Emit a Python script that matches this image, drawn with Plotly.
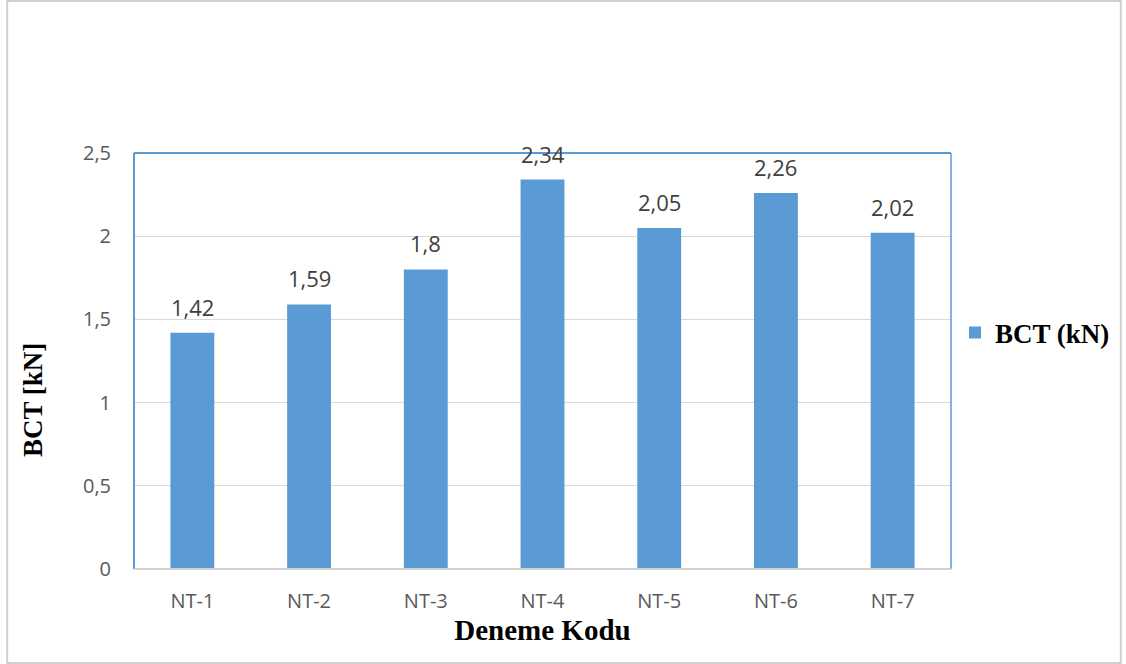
import plotly.graph_objects as go

categories = ["NT-1", "NT-2", "NT-3", "NT-4", "NT-5", "NT-6", "NT-7"]
bct_values = [1.42, 1.59, 1.80, 2.34, 2.05, 2.26, 2.02]
y_ticks = [0, 0.5, 1, 1.5, 2, 2.5]

W, H = 1126, 664
L, R, T, B = 134, 952, 153, 569  # plot-area edges in pixels

blue = "#5B9BD5"
tick_font = dict(family="Open Sans, Calibri, sans-serif", size=20, color="#595959")
serif_bold = "Liberation Serif, Times New Roman, serif"

fig = go.Figure(
    go.Bar(
        x=categories,
        y=bct_values,
        name="<b>BCT (kN)</b>",
        marker=dict(color=blue, line=dict(width=0)),
        showlegend=True,
    )
)

# value labels above each bar
for c, v in zip(categories, bct_values):
    fig.add_annotation(
        x=c, y=v, text=f"{v:g}".replace(".", ","),
        showarrow=False, yanchor="bottom", yshift=9,
        font=dict(family="Open Sans, Calibri, sans-serif", size=22, color="#404040"),
    )


def px_x(p):
    return (p - L) / (R - L)


def px_y(p):
    return (B - p) / (B - T)


# vertical axis title, set slightly below the plot-area centre
fig.add_annotation(
    xref="paper", yref="paper", x=px_x(33), y=px_y(400),
    text="<b>BCT [kN]</b>", textangle=-90, showarrow=False,
    xanchor="center", yanchor="middle",
    font=dict(family=serif_bold, size=27, color="#000000"),
)

shapes = [
    # outer frame
    dict(type="rect", xref="paper", yref="paper",
         x0=px_x(7), x1=px_x(1122), y0=px_y(663), y1=px_y(1),
         line=dict(color="#D0D0D0", width=2), layer="below"),
    # plot-area border: blue on left/top/right, gray baseline
    dict(type="line", xref="paper", yref="paper", x0=0, x1=0, y0=0, y1=1,
         line=dict(color=blue, width=2)),
    dict(type="line", xref="paper", yref="paper", x0=0, x1=1, y0=1, y1=1,
         line=dict(color=blue, width=2)),
    dict(type="line", xref="paper", yref="paper", x0=1, x1=1, y0=0, y1=1,
         line=dict(color=blue, width=1.5)),
    dict(type="line", xref="paper", yref="paper", x0=0, x1=1, y0=0, y1=0,
         line=dict(color="#D0D0D0", width=2)),
]

fig.update_layout(
    width=W, height=H,
    margin=dict(l=L, r=W - R, t=T, b=H - B, pad=0),
    paper_bgcolor="white", plot_bgcolor="white",
    separators=",.",
    bargap=0.624,
    shapes=shapes,
    legend=dict(
        x=px_x(955), y=px_y(333), xanchor="left", yanchor="middle",
        font=dict(family=serif_bold, size=27, color="#000000"),
        itemwidth=30, bgcolor="rgba(0,0,0,0)",
    ),
    xaxis=dict(
        showgrid=False, showline=False, zeroline=False,
        tickfont=tick_font, ticks="", ticklabelstandoff=18,
        title=dict(text="<b>Deneme Kodu</b>",
                   font=dict(family=serif_bold, size=29, color="#000000"),
                   standoff=5),
    ),
    yaxis=dict(
        range=[0, 2.5], tickvals=y_ticks,
        showgrid=True, gridcolor="#D9D9D9", gridwidth=1,
        showline=False, zeroline=False,
        tickfont=tick_font, ticks="", ticklabelstandoff=22,
    ),
)

fig.write_html("out.html")
